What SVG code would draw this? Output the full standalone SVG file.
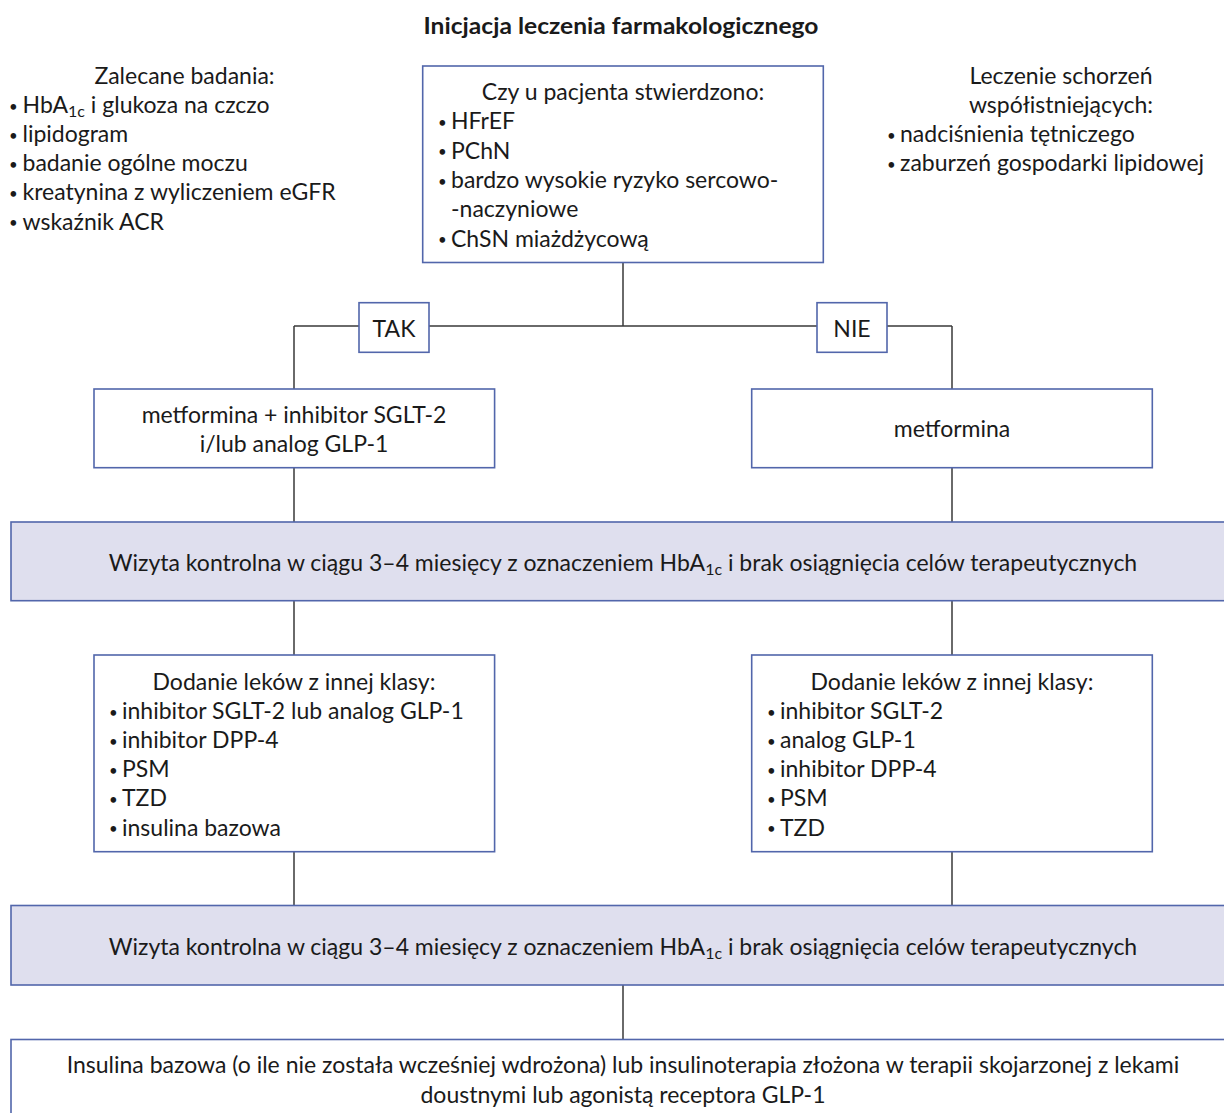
<svg xmlns="http://www.w3.org/2000/svg" width="1224" height="1113" viewBox="0 0 1224 1113">
<style>
text{font-family:Lato,"Noto Sans","Liberation Sans",sans-serif;font-size:23px;fill:#1a1a1a}
.t{font-weight:bold;font-size:23px}
.c{text-anchor:middle}
.b{font-size:15px}
.box{fill:#fff;stroke:#5266ab;stroke-width:1.6}
.band{fill:#dfdfee;stroke:#5266ab;stroke-width:1.6}
.ln{stroke:#3a3a3a;stroke-width:1.5;fill:none}
.sub{font-size:16px}
</style>
<rect width="1224" height="1113" fill="#fff"/>
<text class="t c" x="621" y="34" textLength="395" lengthAdjust="spacingAndGlyphs">Inicjacja leczenia farmakologicznego</text>

<g id="connectors">
<path class="ln" d="M623,263V326M294,326H359M429,326H817M887,326H952M294,326V389M952,326V389M294,468V522M952,468V522M294,601V655M952,601V655M294,852V905M952,852V905M623,985V1039"/>
</g>

<g id="tests">
<text class="c" x="184.5" y="83.5">Zalecane badania:</text>
<text class="b" x="9" y="111.5">•</text><text x="22.5" y="112.7">HbA<tspan class="sub" dy="4">1c</tspan><tspan dy="-4"> i glukoza na czczo</tspan></text>
<text class="b" x="9" y="140.7">•</text><text x="22.5" y="141.9">lipidogram</text>
<text class="b" x="9" y="169.9">•</text><text x="22.5" y="171.1">badanie ogólne moczu</text>
<text class="b" x="9" y="199.1">•</text><text x="22.5" y="200.3">kreatynina z wyliczeniem eGFR</text>
<text class="b" x="9" y="228.3">•</text><text x="22.5" y="229.5">wskaźnik ACR</text>
</g>

<g id="comorbid">
<text class="c" x="1061" y="84">Leczenie schorzeń</text>
<text class="c" x="1061" y="113">współistniejących:</text>
<text class="b" x="887" y="140.8">•</text><text x="900" y="142">nadciśnienia tętniczego</text>
<text class="b" x="887" y="169.8">•</text><text x="900" y="171">zaburzeń gospodarki lipidowej</text>
</g>

<g id="question">
<rect class="box" x="422.7" y="66" width="400.6" height="196.5"/>
<text class="c" x="623" y="100">Czy u pacjenta stwierdzono:</text>
<text class="b" x="438" y="128.1">•</text><text x="451" y="129.3">HFrEF</text>
<text class="b" x="438" y="157.4">•</text><text x="451" y="158.6">PChN</text>
<text class="b" x="438" y="186.7">•</text><text x="451" y="187.9">bardzo wysokie ryzyko sercowo-</text>
<text x="451" y="217.2">-naczyniowe</text>
<text class="b" x="438" y="245.3">•</text><text x="451" y="246.5">ChSN miażdżycową</text>
</g>

<g id="tak">
<rect class="box" x="359" y="302.7" width="70" height="49.6"/>
<text class="c" x="394" y="336.5">TAK</text>
</g>
<g id="nie">
<rect class="box" x="817" y="302.7" width="70" height="49.6"/>
<text class="c" x="852" y="336.5">NIE</text>
</g>

<g id="tak-treatment">
<rect class="box" x="94" y="389" width="400.6" height="78.7"/>
<text class="c" x="294" y="423">metformina + inhibitor SGLT-2</text>
<text class="c" x="294" y="452">i/lub analog GLP-1</text>
</g>
<g id="nie-treatment">
<rect class="box" x="751.7" y="389" width="400.6" height="78.7"/>
<text class="c" x="952" y="437">metformina</text>
</g>

<g id="visit1">
<rect class="band" x="11" y="522" width="1232" height="78.7"/>
<text class="c" x="623" y="571">Wizyta kontrolna w ciągu 3–4 miesięcy z oznaczeniem HbA<tspan class="sub" dy="4">1c</tspan><tspan dy="-4"> i brak osiągnięcia celów terapeutycznych</tspan></text>
</g>

<g id="tak-add">
<rect class="box" x="94" y="655" width="400.6" height="196.7"/>
<text class="c" x="294" y="689.5">Dodanie leków z innej klasy:</text>
<text class="b" x="109" y="717.5">•</text><text x="122" y="718.7">inhibitor SGLT-2 lub analog GLP-1</text>
<text class="b" x="109" y="746.7">•</text><text x="122" y="747.9">inhibitor DPP-4</text>
<text class="b" x="109" y="775.9">•</text><text x="122" y="777.1">PSM</text>
<text class="b" x="109" y="805.1">•</text><text x="122" y="806.3">TZD</text>
<text class="b" x="109" y="834.3">•</text><text x="122" y="835.5">insulina bazowa</text>
</g>
<g id="nie-add">
<rect class="box" x="751.7" y="655" width="400.6" height="196.7"/>
<text class="c" x="952" y="689.5">Dodanie leków z innej klasy:</text>
<text class="b" x="767" y="717.5">•</text><text x="780" y="718.7">inhibitor SGLT-2</text>
<text class="b" x="767" y="746.7">•</text><text x="780" y="747.9">analog GLP-1</text>
<text class="b" x="767" y="775.9">•</text><text x="780" y="777.1">inhibitor DPP-4</text>
<text class="b" x="767" y="805.1">•</text><text x="780" y="806.3">PSM</text>
<text class="b" x="767" y="834.3">•</text><text x="780" y="835.5">TZD</text>
</g>

<g id="visit2">
<rect class="band" x="11" y="905.5" width="1232" height="79.5"/>
<text class="c" x="623" y="955">Wizyta kontrolna w ciągu 3–4 miesięcy z oznaczeniem HbA<tspan class="sub" dy="4">1c</tspan><tspan dy="-4"> i brak osiągnięcia celów terapeutycznych</tspan></text>
</g>

<g id="insulin">
<rect class="box" x="11" y="1039.5" width="1232" height="100"/>
<text class="c" x="623" y="1073">Insulina bazowa (o ile nie została wcześniej wdrożona) lub insulinoterapia złożona w terapii skojarzonej z lekami</text>
<text class="c" x="623" y="1102.5">doustnymi lub agonistą receptora GLP-1</text>
</g>
</svg>
